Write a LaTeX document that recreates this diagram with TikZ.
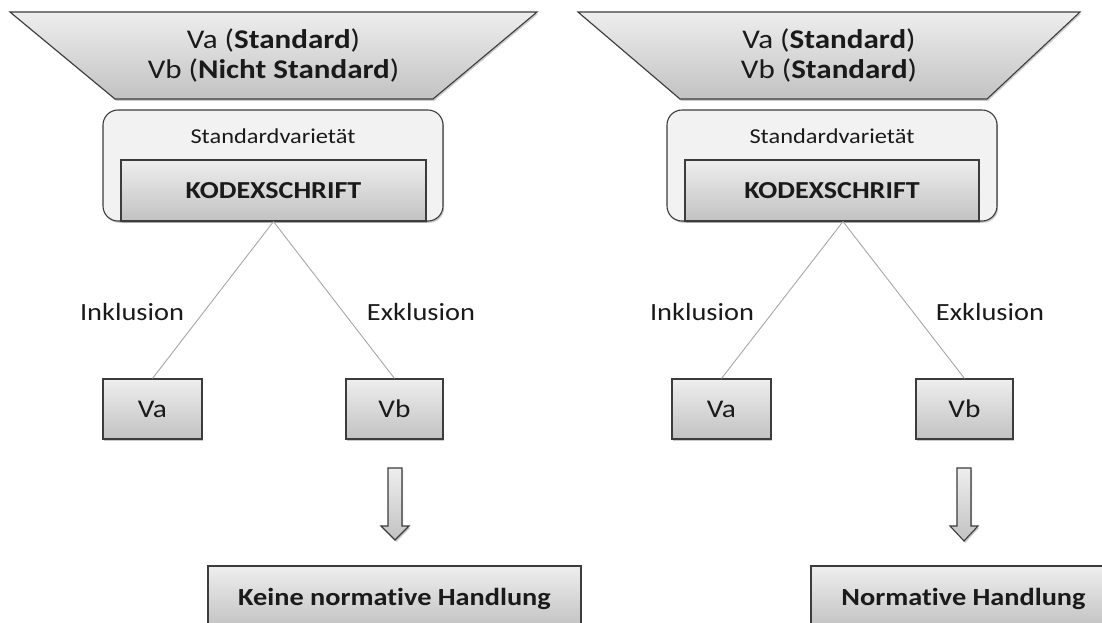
\documentclass[tikz,border=0pt]{standalone}
\usepackage{fontspec}
\setmainfont{Carlito}[FakeStretch=1.15, Ligatures=NoCommon]
\usetikzlibrary{shadows}
\definecolor{edge}{HTML}{3C3C3C}
\definecolor{shadetop}{HTML}{EEEEEE}
\definecolor{shadebot}{HTML}{C2C2C2}
\definecolor{panel}{HTML}{F2F2F2}
\definecolor{link}{HTML}{A6A6A6}
\definecolor{ink}{HTML}{1A1A1A}
\tikzset{
  soft shadow/.style={drop shadow={shadow xshift=1.2pt, shadow yshift=-1.8pt, opacity=0.35, fill=black!60}},
  grad/.style={top color=shadetop, bottom color=shadebot, draw=edge, line width=1.1pt},
  box/.style={grad, soft shadow, rectangle, inner sep=0pt, text=ink},
  panelbox/.style={fill=panel, draw=edge, line width=1.1pt, rounded corners=15pt, soft shadow, inner sep=0pt},
  link/.style={draw=link, line width=0.9pt},
  label/.style={text=ink, anchor=base, font=\fontsize{24.7}{30}\selectfont},
  title/.style={text=ink, align=center, font=\fontsize{27}{30}\selectfont},
  small/.style={text=ink, anchor=base, font=\fontsize{21.2}{25}\selectfont},
  kodex/.style={box, font=\bfseries\fontsize{24.4}{28}\selectfont},
  vbox/.style={box, minimum width=99pt, minimum height=60pt, font=\fontsize{25.5}{30}\selectfont},
  result/.style={box, minimum height=62pt, font=\bfseries\fontsize{24.6}{28}\selectfont, text height=16pt, text depth=0pt},
}
\begin{document}
\begin{tikzpicture}[x=1pt, y=-1pt]
  \path[use as bounding box] (0,0) rectangle (1102,622);
  \clip (0,0) rectangle (1102,622);

  % ---- left scheme ----
  \draw[grad, soft shadow] (10,12) -- (537,12) -- (433,99) -- (115,99) -- cycle;
  \node[title] (ltitle) at (273.5,55) {Va (\textbf{Standard})\\Vb (\textbf{Nicht Standard})};
  \node[panelbox, minimum width=340pt, minimum height=111pt] (lpanel) at (273,165.5) {};
  \node[small] (lvar) at (273,143) {Standardvarietät};
  \node[kodex, minimum width=305pt, minimum height=61pt] (lkodex) at (273.5,190.5) {KODEXSCHRIFT};
  \node[vbox] (lva) at (152.5,409) {Va};
  \node[vbox, minimum width=97pt] (lvb) at (394.5,409) {Vb};
  \draw[link] (lkodex.south) -- (lva.north);
  \draw[link] (lkodex.south) -- (lvb.north);
  \node[label] (lin) at (132,320) {Inklusion};
  \node[label] (lex) at (421,320) {Exklusion};
  \draw[grad, soft shadow] (388,468) -- (402,468) -- (402,526) -- (409,526)
        -- (395,540) -- (381,526) -- (388,526) -- cycle;
  \node[result, minimum width=373pt] (lres) at (394.5,597) {Keine normative Handlung};

  % ---- right scheme ----
  \draw[grad, soft shadow] (578,12) -- (1080,12) -- (987,99) -- (680,99) -- cycle;
  \node[title] (rtitle) at (829,55) {Va (\textbf{Standard})\\Vb (\textbf{Standard})};
  \node[panelbox, minimum width=330pt, minimum height=111pt] (rpanel) at (832,165.5) {};
  \node[small] (rvar) at (832,143) {Standardvarietät};
  \node[kodex, minimum width=294pt, minimum height=61pt] (rkodex) at (832,190.5) {KODEXSCHRIFT};
  \coordinate (rapex) at ([xshift=11pt]rkodex.south);
  \node[vbox] (rva) at (721.5,409) {Va};
  \node[vbox, minimum width=97pt] (rvb) at (964.5,409) {Vb};
  \draw[link] (rapex) -- (rva.north);
  \draw[link] (rapex) -- (rvb.north);
  \node[label] (rin) at (702,320) {Inklusion};
  \node[label] (rex) at (990,320) {Exklusion};
  \draw[grad, soft shadow] (957,468) -- (971,468) -- (971,526) -- (978,526)
        -- (964,541) -- (950,526) -- (957,526) -- cycle;
  \node[result, minimum width=305pt] (rres) at (963.5,597) {Normative Handlung};
\end{tikzpicture}
\end{document}
